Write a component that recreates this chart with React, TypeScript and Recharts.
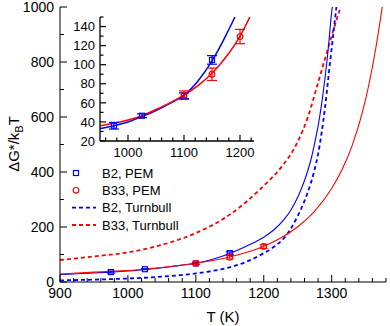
import React from 'react';
import { ComposedChart, Line, Scatter, XAxis, YAxis, ErrorBar, Label } from 'recharts';

const FONT = "'Liberation Sans', Arial, Helvetica, sans-serif";
const BLUE = '#0000ff';
const RED = '#ff0000';

// ---- Curves ----
const B2_PEM_T = [900, 925, 950, 975, 1000, 1025, 1050, 1075, 1100, 1125, 1150, 1175, 1200, 1215, 1230, 1240, 1250, 1260, 1270, 1275, 1280, 1285, 1290, 1295, 1300, 1301];
const B2_PEM_V = [27, 30, 33, 36, 40, 45.5, 52, 59.5, 68, 83, 104, 131, 163, 190, 228, 262, 308, 369, 450, 505, 567, 644, 738, 849, 981, 1000];

const B33_PEM_T = [900, 925, 950, 975, 1000, 1025, 1050, 1075, 1100, 1125, 1150, 1175, 1200, 1225, 1250, 1275, 1300, 1315, 1330, 1345, 1355, 1365, 1374.5];
const B33_PEM_V = [29, 32.5, 36, 38.5, 42, 46.5, 53, 60, 68, 78, 91, 108, 130, 160, 201, 258, 340, 407, 495, 615, 720, 851, 1000];

const B2_TURN_T = [900, 950, 1000, 1050, 1100, 1125, 1150, 1175, 1200, 1215, 1230, 1240, 1250, 1260, 1270, 1275, 1280, 1285, 1290, 1295, 1300, 1307];
const B2_TURN_V = [6, 8.6, 12.7, 19.4, 31.2, 40.5, 53.5, 74, 105, 128, 160, 195, 240, 295, 365, 410, 465, 540, 630, 740, 850, 1000];

const B33_TURN_T = [900, 950, 1000, 1050, 1100, 1150, 1200, 1225, 1250, 1265, 1280, 1290, 1300, 1313];
const B33_TURN_V = [80, 93, 108, 135, 178, 245, 350, 415, 510, 600, 725, 810, 895, 1000];

// ---- Data points with error bars ----
const B2_PTS_T = [975, 1025, 1100, 1150];
const B2_PTS_V = [36, 46.5, 67.5, 105];
const B2_PTS_E = [3.5, 2, 3, 4.5];

const B33_PTS_T = [1100, 1150, 1200];
const B33_PTS_V = [68, 90, 129.5];
const B33_PTS_E = [4.5, 6.5, 7.5];

// ---- Ticks ----
const MAIN_X_MAJOR = [900, 1000, 1100, 1200, 1300];
const MAIN_Y_MAJOR = [0, 200, 400, 600, 800, 1000];
const INSET_X_MAJOR = [1000, 1100, 1200];
const INSET_Y_MAJOR = [20, 40, 60, 80, 100, 120, 140];

const range = (a: number, b: number, s: number) => {
  const r: number[] = [];
  for (let x = a; x <= b + 1e-9; x += s) r.push(x);
  return r;
};
const MAIN_X_TICKS = range(900, 1380, 20);
const MAIN_Y_TICKS = range(0, 1000, 100);
const INSET_X_TICKS = range(960, 1220, 20);
const INSET_Y_TICKS = range(20, 150, 10);

const zip = (T: number[], v: number[]) => T.map((t, i) => ({ T: t, v: v[i] }));
const zipErr = (T: number[], v: number[], e: number[]) => T.map((t, i) => ({ T: t, v: v[i], err: e[i] }));

const b2Pem = zip(B2_PEM_T, B2_PEM_V);
const b33Pem = zip(B33_PEM_T, B33_PEM_V);
const b2Turn = zip(B2_TURN_T, B2_TURN_V);
const b33Turn = zip(B33_TURN_T, B33_TURN_V);
const b2Pts = zipErr(B2_PTS_T, B2_PTS_V, B2_PTS_E);
const b33Pts = zipErr(B33_PTS_T, B33_PTS_V, B33_PTS_E);

type Side = 'bottom' | 'top' | 'left' | 'right';
function makeTick(side: Side, majors: number[], majorLen: number, minorLen: number, showLabel: boolean, fontSize: number, gap: number, sw: number) {
  return (p: any) => {
    const { x, y, payload } = p;
    const v = payload.value;
    const major = majors.some((m) => Math.abs(m - v) < 1e-6);
    const L = major ? majorLen : minorLen;
    let x2 = x;
    let y2 = y;
    if (side === 'bottom') y2 = y - L;
    if (side === 'top') y2 = y + L;
    if (side === 'left') x2 = x + L;
    if (side === 'right') x2 = x - L;
    return (
      <g>
        <line x1={x} y1={y} x2={x2} y2={y2} stroke="#000" strokeWidth={sw} />
        {showLabel && major && side === 'bottom' && (
          <text x={x} y={y + gap} textAnchor="middle" fontSize={fontSize} fontFamily={FONT} fill="#000">{v}</text>
        )}
        {showLabel && major && side === 'left' && (
          <text x={x - gap} y={y + fontSize * 0.36} textAnchor="end" fontSize={fontSize} fontFamily={FONT} fill="#000">{v}</text>
        )}
      </g>
    );
  };
}

const SquareShape = (p: any) => {
  const { cx, cy } = p;
  if (cx == null || cy == null) return <g />;
  return <rect x={cx - 2.5} y={cy - 2.5} width={5} height={5} fill="none" stroke={BLUE} strokeWidth={1.2} />;
};
const CircleShape = (p: any) => {
  const { cx, cy } = p;
  if (cx == null || cy == null) return <g />;
  return <circle cx={cx} cy={cy} r={2.8} fill="none" stroke={RED} strokeWidth={1.2} />;
};

const XTitle = () => (
  <text x={223} y={322} textAnchor="middle" fontSize={15} fontFamily={FONT} fill="#000">T (K)</text>
);
const YTitle = () => (
  <text transform="rotate(-90)" x={-144} y={19} textAnchor="middle" fontSize={15} fontFamily={FONT} fill="#000">
    ΔG*/k<tspan fontSize={11} dy={4}>B</tspan><tspan dy={-4} fontSize={15}>T</tspan>
  </text>
);

const axisLine = { stroke: '#000', strokeWidth: 1 };
const insetAxisLine = { stroke: '#000', strokeWidth: 1.3 };

const LegendOverlay = () => (
  <svg width={160} height={80} style={{ position: 'absolute', left: 60, top: 160 }}>
    <rect x={16 - 2.5} y={13 - 2.5} width={5} height={5} fill="none" stroke={BLUE} strokeWidth={1.2} />
    <text x={42} y={17.5} fontSize={13} fontFamily={FONT} fill="#000">B2, PEM</text>
    <circle cx={16} cy={30.3} r={2.8} fill="none" stroke={RED} strokeWidth={1.2} />
    <text x={42} y={34.8} fontSize={13} fontFamily={FONT} fill="#000">B33, PEM</text>
    <line x1={12} x2={36} y1={47.6} y2={47.6} stroke={BLUE} strokeWidth={1.8} strokeDasharray="4 3" />
    <text x={42} y={52.1} fontSize={13} fontFamily={FONT} fill="#000">B2, Turnbull</text>
    <line x1={12} x2={36} y1={65} y2={65} stroke={RED} strokeWidth={1.8} strokeDasharray="4 3" />
    <text x={42} y={69.5} fontSize={13} fontFamily={FONT} fill="#000">B33, Turnbull</text>
  </svg>
);

export default function App() {
  return (
    <div style={{ position: 'absolute', left: 0, top: 0, width: 390, height: 326, background: '#fff', fontFamily: FONT }}>
      <ComposedChart width={390} height={326} margin={{ top: 7, right: 4, bottom: 0, left: 0 }}>
        <XAxis
          dataKey="T" type="number" domain={[900, 1380]} ticks={MAIN_X_TICKS} interval={0}
          tick={makeTick('bottom', MAIN_X_MAJOR, 7, 4, true, 14, 16, 1)}
          tickLine={false} tickSize={0} tickMargin={0} height={44} axisLine={axisLine}
        >
          <Label content={XTitle} />
        </XAxis>
        <XAxis
          xAxisId="top" orientation="top" type="number" domain={[900, 1380]} allowDataOverflow ticks={MAIN_X_TICKS} interval={0}
          tick={makeTick('top', MAIN_X_MAJOR, 7, 4, false, 14, 0, 1)}
          tickLine={false} tickSize={0} tickMargin={0} height={0} axisLine={axisLine}
        />
        <YAxis
          type="number" domain={[0, 1000]} ticks={MAIN_Y_TICKS} interval={0}
          tick={makeTick('left', MAIN_Y_MAJOR, 7, 4, true, 14, 6, 1)}
          tickLine={false} tickSize={0} tickMargin={0} width={60} axisLine={axisLine}
        >
          <Label content={YTitle} />
        </YAxis>
        <YAxis
          yAxisId="right" orientation="right" type="number" domain={[0, 1000]} allowDataOverflow ticks={MAIN_Y_TICKS} interval={0}
          tick={makeTick('right', MAIN_Y_MAJOR, 7, 4, false, 14, 0, 1)}
          tickLine={false} tickSize={0} tickMargin={0} width={0} axisLine={axisLine}
        />
        <Line data={b33Turn} dataKey="v" type="monotone" stroke={RED} strokeWidth={1.8} strokeDasharray="4 3" dot={false} isAnimationActive={false} />
        <Line data={b2Turn} dataKey="v" type="monotone" stroke={BLUE} strokeWidth={1.8} strokeDasharray="4 3" dot={false} isAnimationActive={false} />
        <Line data={b2Pem} dataKey="v" type="monotone" stroke={BLUE} strokeWidth={1.1} dot={false} isAnimationActive={false} />
        <Line data={b33Pem} dataKey="v" type="monotone" stroke={RED} strokeWidth={1.1} dot={false} isAnimationActive={false} />
        <Scatter data={b2Pts} dataKey="v" shape={SquareShape} isAnimationActive={false}>
          <ErrorBar dataKey="err" direction="y" width={4} stroke={BLUE} strokeWidth={1} />
        </Scatter>
        <Scatter data={b33Pts} dataKey="v" shape={CircleShape} isAnimationActive={false}>
          <ErrorBar dataKey="err" direction="y" width={4} stroke={RED} strokeWidth={1} />
        </Scatter>
      </ComposedChart>

      <div style={{ position: 'absolute', left: 40, top: 0 }}>
        <ComposedChart width={220} height={165} margin={{ top: 17, right: 6, bottom: 0, left: 0 }}>
          <XAxis
            dataKey="T" type="number" domain={[950, 1225]} allowDataOverflow ticks={INSET_X_TICKS} interval={0}
            tick={makeTick('bottom', INSET_X_MAJOR, 6, 3.5, true, 13, 15.5, 1.2)}
            tickLine={false} tickSize={0} tickMargin={0} height={24} axisLine={insetAxisLine}
          />
          <XAxis
            xAxisId="top" orientation="top" type="number" domain={[950, 1225]} allowDataOverflow ticks={INSET_X_TICKS} interval={0}
            tick={makeTick('top', INSET_X_MAJOR, 6, 3.5, false, 13, 0, 1.2)}
            tickLine={false} tickSize={0} tickMargin={0} height={0} axisLine={insetAxisLine}
          />
          <YAxis
            type="number" domain={[20, 150]} allowDataOverflow ticks={INSET_Y_TICKS} interval={0}
            tick={makeTick('left', INSET_Y_MAJOR, 6, 3.5, true, 13, 5, 1.2)}
            tickLine={false} tickSize={0} tickMargin={0} width={60} axisLine={insetAxisLine}
          />
          <YAxis
            yAxisId="right" orientation="right" type="number" domain={[20, 150]} allowDataOverflow ticks={INSET_Y_TICKS} interval={0}
            tick={makeTick('right', INSET_Y_MAJOR, 6, 3.5, false, 13, 0, 1.2)}
            tickLine={false} tickSize={0} tickMargin={0} width={0} axisLine={insetAxisLine}
          />
          <Line data={b2Pem} dataKey="v" type="monotone" stroke={BLUE} strokeWidth={1.5} dot={false} isAnimationActive={false} />
          <Line data={b33Pem} dataKey="v" type="monotone" stroke={RED} strokeWidth={1.5} dot={false} isAnimationActive={false} />
          <Scatter data={b2Pts} dataKey="v" shape={SquareShape} isAnimationActive={false}>
            <ErrorBar dataKey="err" direction="y" width={5} stroke={BLUE} strokeWidth={1.2} />
          </Scatter>
          <Scatter data={b33Pts} dataKey="v" shape={CircleShape} isAnimationActive={false}>
            <ErrorBar dataKey="err" direction="y" width={5} stroke={RED} strokeWidth={1.2} />
          </Scatter>
        </ComposedChart>
      </div>

      <LegendOverlay />
    </div>
  );
}
